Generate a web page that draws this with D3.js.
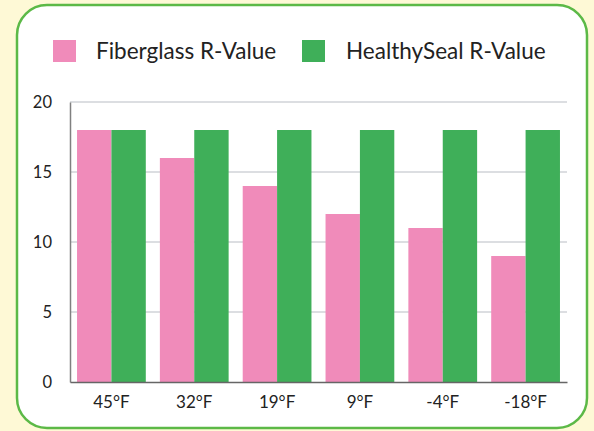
<!DOCTYPE html>
<html><head><meta charset="utf-8">
<script src="https://cdn.jsdelivr.net/npm/d3@7"></script>
<style>
html,body{margin:0;padding:0;background:#fef9d6;}
svg{display:block;}
text{font-family:Lato,"Open Sans",sans-serif;fill:#222;}
</style></head><body>
<script>
const categories = ["45°F","32°F","19°F","9°F","-4°F","-18°F"];
const fiberglass = [18,16,14,12,11,9];
const healthySeal = [18,18,18,18,18,18];
const seriesNames = ["Fiberglass R-Value","HealthySeal R-Value"];
const seriesColors = ["#f08bba","#3faf59"];
const yTicks = [0,5,10,15,20];

(function(){
const W=594,H=431;
const svg=d3.select("body").append("svg").attr("width",W).attr("height",H);
svg.append("rect").attr("x",0).attr("y",0).attr("width",W).attr("height",H).attr("fill","#fef9d6");
svg.append("rect").attr("x",17).attr("y",5).attr("width",570).attr("height",423)
  .attr("rx",30).attr("ry",30).attr("fill","#fff").attr("stroke","#5cb947").attr("stroke-width",2.5);

const mL=70,mR=567,mT=102,mB=382;
const y=d3.scaleLinear().domain([0,20]).range([mB,mT]);
const x0=d3.scaleBand().domain(categories).range([mL,mR]).paddingInner(0.17).paddingOuter(0.085);
const x1=d3.scaleBand().domain([0,1]).range([0,x0.bandwidth()]);

svg.append("g").selectAll("line").data(yTicks.filter(d=>d>0)).join("line")
  .attr("x1",mL).attr("x2",mR).attr("y1",d=>y(d)).attr("y2",d=>y(d))
  .attr("stroke","#b9bdc4").attr("stroke-width",1);

const data=categories.map((c,i)=>({c,vals:[fiberglass[i],healthySeal[i]]}));
const g=svg.append("g").selectAll("g").data(data).join("g").attr("transform",d=>`translate(${x0(d.c)},0)`);
g.selectAll("rect").data(d=>d.vals.map((v,k)=>({v,k}))).join("rect")
  .attr("x",d=>x1(d.k)).attr("width",x1.bandwidth())
  .attr("y",d=>y(d.v)).attr("height",d=>mB-y(d.v))
  .attr("fill",d=>seriesColors[d.k]);

const yAxis=svg.append("g").attr("transform",`translate(${mL},0)`)
  .call(d3.axisLeft(y).tickValues(yTicks).tickSize(0).tickPadding(18));
yAxis.select(".domain").attr("stroke","#808080").attr("stroke-width",1.5);
yAxis.selectAll("text").style("font-size","16.5px").style("font-family","Lato,sans-serif").attr("fill","#222");

const xAxis=svg.append("g").attr("transform",`translate(0,${mB})`)
  .call(d3.axisBottom(x0).tickSize(0).tickPadding(14));
xAxis.select(".domain").attr("stroke","#666").attr("stroke-width",1.5);
xAxis.selectAll("text").style("font-size","17px").style("font-family","Lato,sans-serif").attr("fill","#222");

const legX=[53,302], textX=[96,346];
seriesNames.forEach((n,i)=>{
  svg.append("rect").attr("x",legX[i]).attr("y",40).attr("width",23).attr("height",22).attr("fill",seriesColors[i]);
  svg.append("text").attr("x",textX[i]).attr("y",59).text(n).style("font-size","22.5px");
});
})();
</script>
</body></html>
